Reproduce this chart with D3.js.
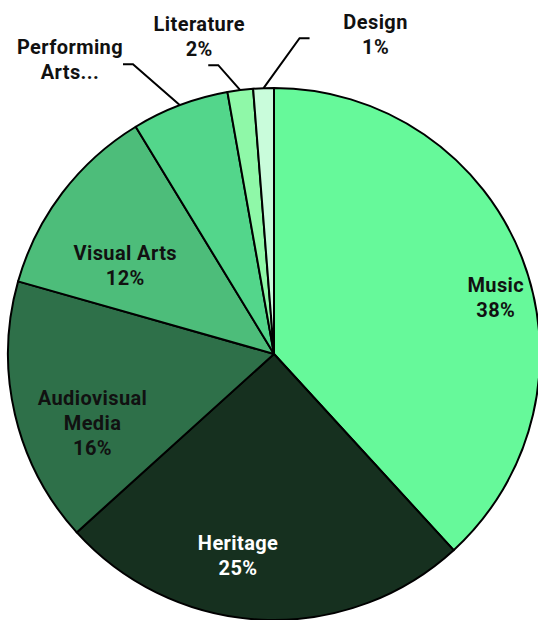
<!DOCTYPE html>
<html>
<head>
<meta charset="utf-8">
<script src="https://cdn.jsdelivr.net/npm/d3@7"></script>
<style>
  html, body { margin: 0; padding: 0; background: #fff; }
  svg { display: block; font-family: Roboto, "Liberation Sans", sans-serif; }
</style>
</head>
<body>
<div id="chart"></div>
<script>
// sector shares (percent)
var categories = ['Music', 'Heritage', 'Audiovisual Media', 'Visual Arts', 'Performing Arts', 'Literature', 'Design'];
var values     = [38.2, 25.1, 16.1, 11.9, 5.9, 1.55, 1.25];
var colors     = ['#66f99a', '#16301f', '#2e7049', '#4dbd7a', '#53d68b', '#8ff8a8', '#c9fcdb'];
var displayNames = ['Music', 'Heritage', 'Audiovisual\nMedia', 'Visual Arts', 'Performing\nArts...', 'Literature', 'Design'];

var W = 538, H = 620;
var cx = 274, cy = 354, R = 266;

// inside label placement: fraction of radius, angle nudge (deg)
var insideLayout = {
  'Music':             { r: 0.86, shift: 7 },
  'Heritage':          { r: 0.77, shift: 7.4 },
  'Audiovisual Media': { r: 0.73, shift: -7.7 },
  'Visual Arts':       { r: 0.65, shift: -6.6 }
};
// outside labels: elbow offset from slice edge, tail, label centre offset
var outsideLayout = {
  'Performing Arts': { ex: -47, ey: -41, tail: -10, lx: -110, ly: -46 },
  'Literature':      { ex: -22, ey: -25, tail: -10, lx: -41,  ly: -54 },
  'Design':          { ex: 36,  ey: -50, tail: 10,  lx: 112,  ly: -54 }
};

var svg = d3.select('#chart').append('svg')
  .attr('width', W).attr('height', H);

var g = svg.append('g').attr('transform', 'translate(' + cx + ',' + cy + ')');

var total = d3.sum(values);
var pie = d3.pie().sort(null).value(function(d) { return d.value; });
var data = categories.map(function(c, i) {
  return { name: c, value: values[i], color: colors[i], label: displayNames[i] };
});
var arcs = pie(data);
var arc = d3.arc().innerRadius(0).outerRadius(R);

g.selectAll('path.slice')
  .data(arcs)
  .enter()
  .append('path')
  .attr('class', 'slice')
  .attr('d', arc)
  .attr('fill', function(d) { return d.data.color; })
  .attr('stroke', '#000')
  .attr('stroke-width', 2)
  .attr('stroke-linejoin', 'round');

function pct(d) { return Math.round(d.data.value / total * 100) + '%'; }

function writeLines(sel, lines, lh) {
  var n = lines.length;
  lines.forEach(function(t, i) {
    sel.append('tspan')
      .attr('x', 0)
      .attr('y', (i - (n - 1) / 2) * lh)
      .attr('dominant-baseline', 'central')
      .text(t);
  });
}

// inside labels
arcs.forEach(function(d) {
  var lay = insideLayout[d.data.name];
  if (!lay) return;
  var a = (d.startAngle + d.endAngle) / 2 + lay.shift * Math.PI / 180;
  var x = Math.sin(a) * R * lay.r, y = -Math.cos(a) * R * lay.r;
  var t = g.append('text')
    .attr('transform', 'translate(' + x + ',' + y + ')')
    .attr('text-anchor', 'middle')
    .attr('font-size', '20px')
    .attr('font-weight', 700)
    .attr('letter-spacing', '0.4px')
    .attr('fill', d.data.name === 'Heritage' ? '#fff' : '#111');
  writeLines(t, d.data.label.split('\n').concat([pct(d)]), 25);
});

// outside labels with leader lines
arcs.forEach(function(d) {
  var lay = outsideLayout[d.data.name];
  if (!lay) return;
  var a = (d.startAngle + d.endAngle) / 2;
  var px = Math.sin(a) * R, py = -Math.cos(a) * R;
  var ex = px + lay.ex, ey = py + lay.ey;
  g.append('path')
    .attr('d', 'M' + px + ',' + py + 'L' + ex + ',' + ey + 'L' + (ex + lay.tail) + ',' + ey)
    .attr('fill', 'none')
    .attr('stroke', '#000')
    .attr('stroke-width', 2);
  var t = g.append('text')
    .attr('transform', 'translate(' + (px + lay.lx) + ',' + (py + lay.ly) + ')')
    .attr('text-anchor', 'middle')
    .attr('font-size', '20px')
    .attr('font-weight', 700)
    .attr('letter-spacing', '0.4px')
    .attr('fill', '#111');
  writeLines(t, d.data.label.split('\n').concat(d.data.name === 'Performing Arts' ? [] : [pct(d)]), 25);
});
</script>
</body>
</html>
